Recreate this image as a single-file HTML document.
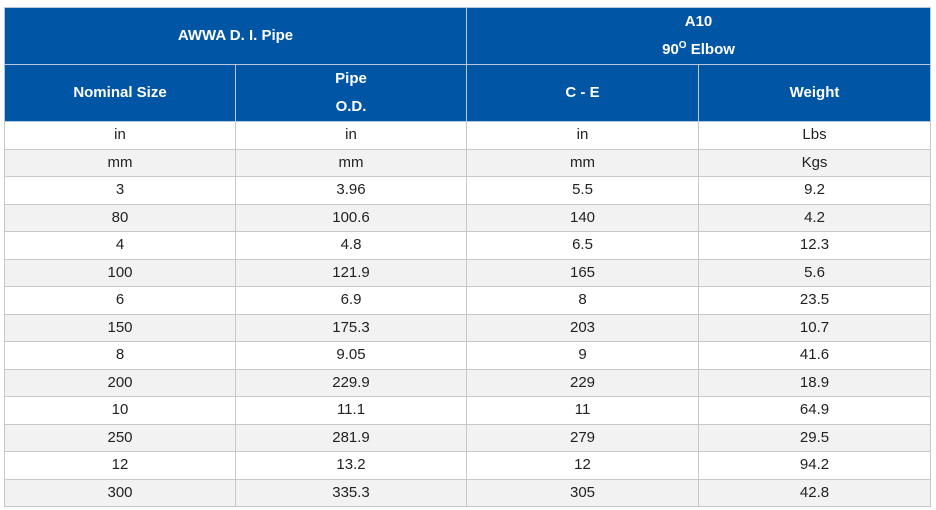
<!DOCTYPE html>
<html><head><meta charset="utf-8"><style>
body{margin:0;background:#fff;width:936px;height:510px;overflow:hidden;font-family:"Liberation Sans",Arial,sans-serif;}
table{position:absolute;left:4px;top:7px;border-collapse:collapse;table-layout:fixed;width:926px;}
td,th{border:1px solid #c8c8c8;text-align:center;padding:0;font-size:15px;color:#222;}
th{background:#0055a5;color:#fff;font-weight:bold;font-size:15px;height:55px;line-height:28px;border-color:#b8c8dc;}
td{height:26.5px;line-height:26px;}
tr.alt td{background:#f2f2f2;}
sup{font-size:10px;vertical-align:6px;line-height:0;}
</style></head><body>
<table>
<colgroup><col style="width:231px"><col style="width:231px"><col style="width:232px"><col style="width:232px"></colgroup>
<tr><th colspan="2">AWWA D. I. Pipe</th><th colspan="2">A10<br>90<sup>O</sup> Elbow</th></tr>
<tr><th>Nominal Size</th><th>Pipe<br>O.D.</th><th>C - E</th><th>Weight</th></tr>
<tbody id="body"></tbody>
</table>
<script>
const rows=[["in","in","in","Lbs"],["mm","mm","mm","Kgs"],["3","3.96","5.5","9.2"],["80","100.6","140","4.2"],["4","4.8","6.5","12.3"],["100","121.9","165","5.6"],["6","6.9","8","23.5"],["150","175.3","203","10.7"],["8","9.05","9","41.6"],["200","229.9","229","18.9"],["10","11.1","11","64.9"],["250","281.9","279","29.5"],["12","13.2","12","94.2"],["300","335.3","305","42.8"]];
const tb=document.getElementById('body');
rows.forEach((r,i)=>{const tr=document.createElement('tr');


if(i%2)tr.className='alt';
r.forEach(v=>{const td=document.createElement('td');td.textContent=v;


tr.appendChild(td);});tb.appendChild(tr);});
</script>
</body></html>
